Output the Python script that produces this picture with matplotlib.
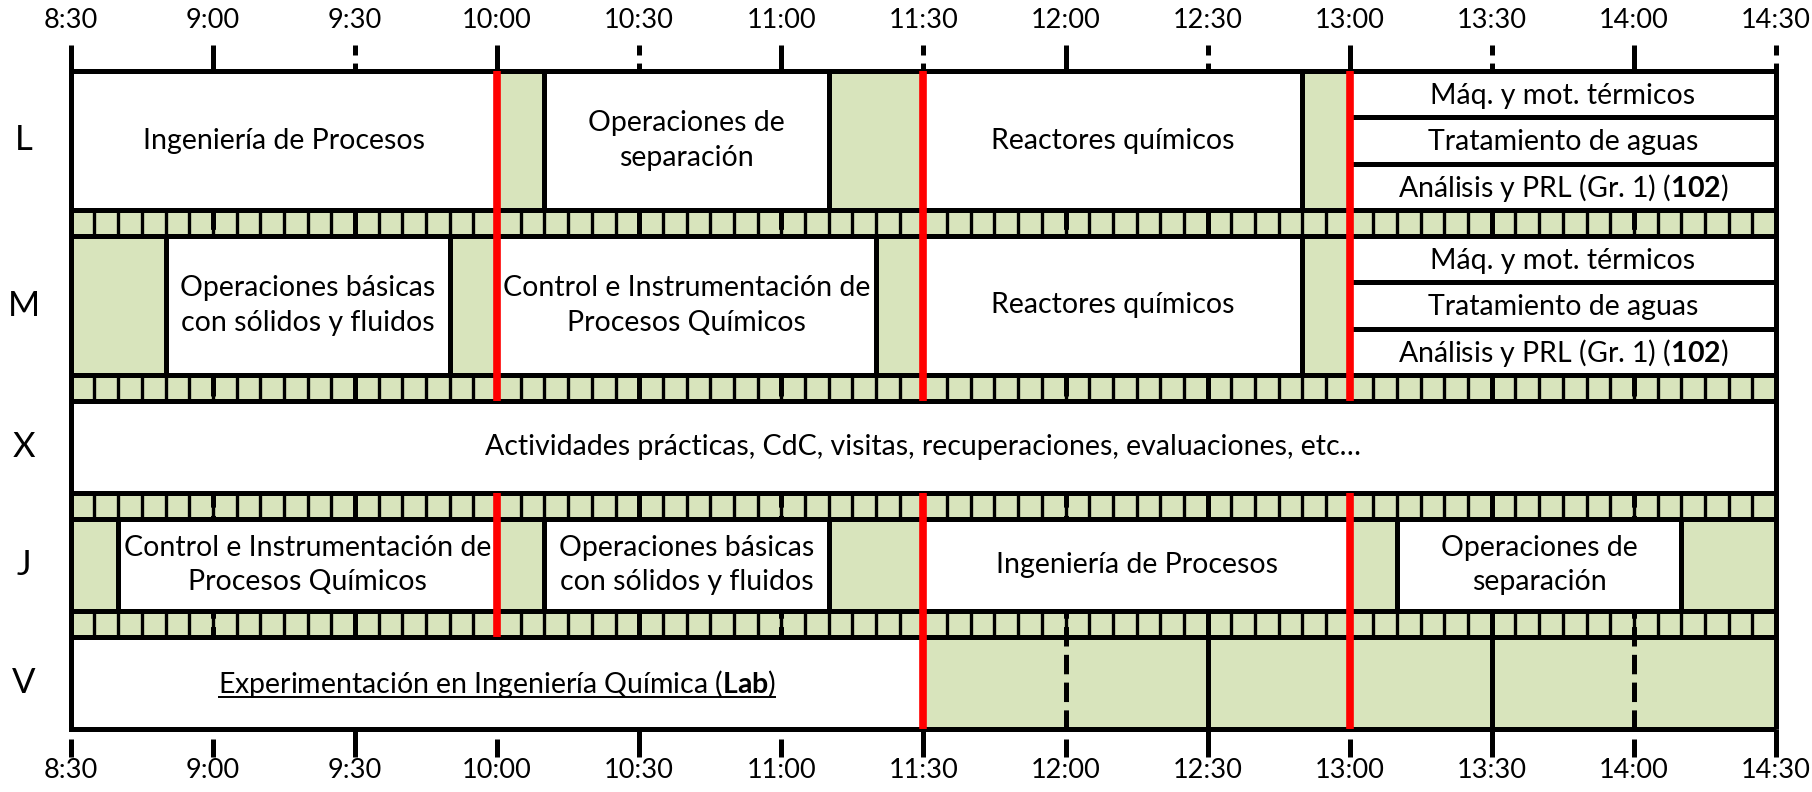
import numpy as np
import matplotlib
matplotlib.use("Agg")
import matplotlib.pyplot as plt
from matplotlib.patches import Rectangle

FUENTE = "Lato"
plt.rcParams['font.family'] = [FUENTE, 'DejaVu Sans']
plt.rcParams['mathtext.fontset'] = 'custom'
plt.rcParams['mathtext.rm'] = FUENTE
plt.rcParams['mathtext.bf'] = FUENTE + ':bold'
plt.rcParams['lines.scale_dashes'] = False

# --- datos del horario ---
dias = ['L', 'M', 'X', 'J', 'V']
horas = ['8:30', '9:00', '9:30', '10:00', '10:30', '11:00', '11:30',
         '12:00', '12:30', '13:00', '13:30', '14:00', '14:30']
cortes_rojos = ['10:00', '11:30', '13:00']

clases_L = [('8:30', '10:00', 'Ingeniería de Procesos'),
            ('10:10', '11:10', 'Operaciones de\nseparación'),
            ('11:30', '12:50', 'Reactores químicos')]
clases_M = [('8:50', '9:50', 'Operaciones básicas\ncon sólidos y fluidos'),
            ('10:00', '11:20', 'Control e Instrumentación de\nProcesos Químicos'),
            ('11:30', '12:50', 'Reactores químicos')]
clases_X = [('8:30', '14:30', 'Actividades prácticas, CdC, visitas, recuperaciones, evaluaciones, etc…')]
clases_J = [('8:40', '10:00', 'Control e Instrumentación de\nProcesos Químicos'),
            ('10:10', '11:10', 'Operaciones básicas\ncon sólidos y fluidos'),
            ('11:30', '13:00', 'Ingeniería de Procesos'),
            ('13:10', '14:10', 'Operaciones de\nseparación')]
clases_V = [('8:30', '11:30', 'Experimentación en Ingeniería Química ($\\mathbf{Lab}$)')]

optativas = ['Máq. y mot. térmicos', 'Tratamiento de aguas',
             'Análisis y PRL (Gr. 1) ($\\mathbf{102}$)']
optativas_horario = ('13:00', '14:30')
dias_optativas = ['L', 'M']
subrayado = ['V']

clases = {'L': clases_L, 'M': clases_M, 'X': clases_X, 'J': clases_J, 'V': clases_V}

# --- geometria (pixeles) ---
alto_fila = {'L': 139, 'M': 139, 'X': 92, 'J': 92, 'V': 92}
alto_franja = 26
y_inicio = 71
VERDE = '#d8e4bc'
LW = 3.6
FS = 20.5


def minutos(h):
    hh, mm = h.split(':')
    return int(hh) * 60 + int(mm)


t0, t1 = minutos(horas[0]), minutos(horas[-1])
px_min = (1776 - 70.8) / (t1 - t0)

fig = plt.figure(figsize=(18.12, 7.92), dpi=100)
ax = fig.add_axes([0, 0, 1, 1])
ax.set_xlim(t0 - 70.8 / px_min, t1 + (1812 - 1776) / px_min)
ax.set_ylim(792, 0)
ax.axis('off')

# posiciones de filas y franjas
filas = {}
franjas = []
y = y_inicio
for i, d in enumerate(dias):
    filas[d] = (y, y + alto_fila[d])
    y += alto_fila[d]
    if i < len(dias) - 1:
        franjas.append((y, y + alto_franja))
        y += alto_franja
y_fin = y

ax.add_patch(Rectangle((t0, y_inicio), t1 - t0, y_fin - y_inicio,
                       facecolor=VERDE, edgecolor='none', zorder=0))

# lineas de cuadricula en las medias horas
for h in horas[1:-1]:
    m = minutos(h)
    estilo = '-' if m % 60 == 30 else (0, (14, 6))
    ax.vlines(m, y_inicio, y_fin, colors='black', lw=LW, linestyles=estilo, zorder=1)

# separadores cada 5 minutos en las franjas
sep = np.arange(t0 + 5, t1, 5)
for a, b in franjas:
    ax.vlines(sep, a, b, colors='black', lw=2.4, zorder=1)

# clases
for d in dias:
    a, b = filas[d]
    for ini, fin, txt in clases[d]:
        s, e = minutos(ini), minutos(fin)
        ax.add_patch(Rectangle((s, a), e - s, b - a, facecolor='white',
                               edgecolor='black', lw=LW, zorder=2))
        if d in subrayado:
            ax.text((s + e) / 2, (a + b) / 2 + 10, txt, ha='center', va='baseline',
                    fontsize=FS, zorder=5)
        else:
            ax.text((s + e) / 2, (a + b) / 2, txt, ha='center', va='center',
                    fontsize=FS, linespacing=1.42, zorder=5)
    if d in dias_optativas:
        s, e = minutos(optativas_horario[0]), minutos(optativas_horario[1])
        sub = (b - a) / len(optativas)
        for k, txt in enumerate(optativas):
            ax.add_patch(Rectangle((s, a + k * sub), e - s, sub, facecolor='white',
                                   edgecolor='black', lw=LW, zorder=2))
            ax.text((s + e) / 2, a + (k + 0.5) * sub + 1.5, txt, ha='center', va='center',
                    fontsize=FS, zorder=5)

# bordes horizontales y laterales
for d in dias:
    ax.hlines(filas[d], t0, t1, colors='black', lw=LW, zorder=3)
ax.vlines([t0, t1], y_inicio, y_fin, colors='black', lw=LW, zorder=3)

# lineas rojas (solo donde no hay una clase que las cruce)
for h in cortes_rojos:
    m = minutos(h)
    tramos = list(franjas)
    for d in dias:
        if not any(minutos(i) < m < minutos(f) for i, f, _ in clases[d]):
            tramos.append(filas[d])
    for a, b in tramos:
        ax.vlines(m, a, b, colors='#ff0000', lw=5.5, zorder=4)

# marcas y etiquetas de horas
for h in horas:
    m = minutos(h)
    if m % 60 == 0 or m == t0:
        ax.vlines(m, 45, y_inicio, colors='black', lw=LW, zorder=3)
        ax.vlines(m, y_fin + 10, y_fin + 28, colors='black', lw=LW, zorder=3)
    else:
        ax.vlines(m, 45, y_inicio, colors='black', lw=LW, linestyles=(0, (7.2, 5.8)), zorder=3)
        ax.vlines(m, y_fin, y_fin + 28, colors='black', lw=LW, zorder=3)
    ax.text(m, 20, h, ha='center', va='center', fontsize=19.5)
    ax.text(m, 771, h, ha='center', va='center', fontsize=19.5)

# letras de los dias
x_dias = t0 - (70.8 - 24) / px_min
for d in dias:
    a, b = filas[d]
    ax.text(x_dias, (a + b) / 2, d, ha='center', va='center', fontsize=25)

# subrayado del texto del viernes
fig.canvas.draw()
r = fig.canvas.get_renderer()
inv = ax.transData.inverted()
for t in ax.texts:
    if 'Experimentación' in t.get_text():
        bb = t.get_window_extent(r)
        (xa, _), (xb, _) = inv.transform([(bb.x0, 0), (bb.x1, 0)])
        yb = t.get_position()[1] + 4
        ax.hlines(yb, xa, xb, colors='black', lw=1.4, zorder=5)

fig.savefig('out.png', dpi=100)
